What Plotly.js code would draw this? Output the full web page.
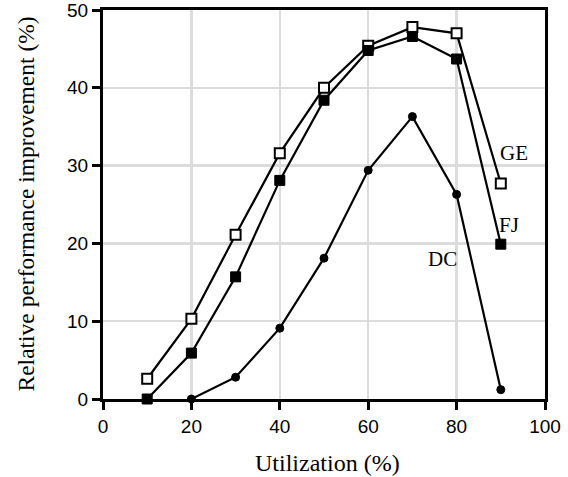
<!DOCTYPE html>
<html>
<head>
<meta charset="utf-8">
<script src="https://cdn.plot.ly/plotly-3.0.1.min.js"></script>
<style>html,body{margin:0;padding:0;background:#fff;}#chart{width:568px;height:477px;}</style>
</head>
<body>
<div id="chart"></div>
<script>
const utilGE = [10, 20, 30, 40, 50, 60, 70, 80, 90];
const valuesGE = [2.6, 10.3, 21.1, 31.6, 40.0, 45.4, 47.8, 47.0, 27.7];
const utilFJ = [10, 20, 30, 40, 50, 60, 70, 80, 90];
const valuesFJ = [0, 5.9, 15.7, 28.1, 38.4, 44.8, 46.6, 43.7, 19.9];
const utilDC = [20, 30, 40, 50, 60, 70, 80, 90];
const valuesDC = [0, 2.8, 9.1, 18.1, 29.4, 36.3, 26.3, 1.2];
const seriesNames = ["GE", "FJ", "DC"];
const xTicks = [0, 20, 40, 60, 80, 100];
const yTicks = [0, 10, 20, 30, 40, 50];
const xTitle = "Utilization (%)";
const yTitle = "Relative performance improvement (%)";

const serif = "Liberation Serif, Times New Roman, serif";
const lineStyle = {color: "#000", width: 2.2};
const traces = [
  {x: utilGE, y: valuesGE, name: seriesNames[0], mode: "lines+markers", line: lineStyle,
   marker: {symbol: "square", size: 10, color: "#fff", line: {color: "#000", width: 2}}, cliponaxis: false},
  {x: utilFJ, y: valuesFJ, name: seriesNames[1], mode: "lines+markers", line: lineStyle,
   marker: {symbol: "square", size: 10, color: "#000", line: {color: "#000", width: 1}}, cliponaxis: false},
  {x: utilDC, y: valuesDC, name: seriesNames[2], mode: "lines+markers", line: lineStyle,
   marker: {symbol: "circle", size: 8, color: "#000", line: {color: "#000", width: 1}}, cliponaxis: false}
];

const axisCommon = {
  showline: true, linecolor: "#000", linewidth: 3, mirror: true,
  ticks: "outside", ticklen: 8, tickwidth: 3, tickcolor: "#000",
  showgrid: true, gridcolor: "#dcdcdc", gridwidth: 2.5,
  zeroline: false, automargin: false, ticklabeloverflow: "allow",
  tickfont: {family: "Liberation Sans, Arial, sans-serif", size: 19, color: "#000"}
};

const layout = {
  width: 568, height: 477,
  margin: {l: 103, r: 23, t: 10, b: 78},
  paper_bgcolor: "#fff", plot_bgcolor: "#fff",
  showlegend: false,
  xaxis: Object.assign({}, axisCommon, {
    range: [0, 100], tickvals: xTicks, ticktext: xTicks.map(String)
  }),
  yaxis: Object.assign({}, axisCommon, {
    range: [0, 50], tickvals: yTicks, ticktext: yTicks.map(String)
  }),
  annotations: [
    {xref: "paper", yref: "paper", x: 0.5, y: 0, yanchor: "middle", xshift: 3, yshift: -64, text: xTitle,
     showarrow: false, font: {family: serif, size: 24, color: "#000"}},
    {xref: "paper", yref: "paper", x: 0, y: 0.5, xanchor: "center", xshift: -78, yshift: 0, textangle: -90, text: yTitle,
     showarrow: false, font: {family: serif, size: 23.5, color: "#000"}},
    {x: 93.0, y: 31.6, text: seriesNames[0], showarrow: false, font: {family: serif, size: 21, color: "#000"}},
    {x: 91.9, y: 22.4, text: seriesNames[1], showarrow: false, font: {family: serif, size: 21, color: "#000"}},
    {x: 76.7, y: 18.0, text: seriesNames[2], showarrow: false, font: {family: serif, size: 21, color: "#000"}}
  ]
};

Plotly.newPlot("chart", traces, layout, {displayModeBar: false, staticPlot: true});
</script>
</body>
</html>
